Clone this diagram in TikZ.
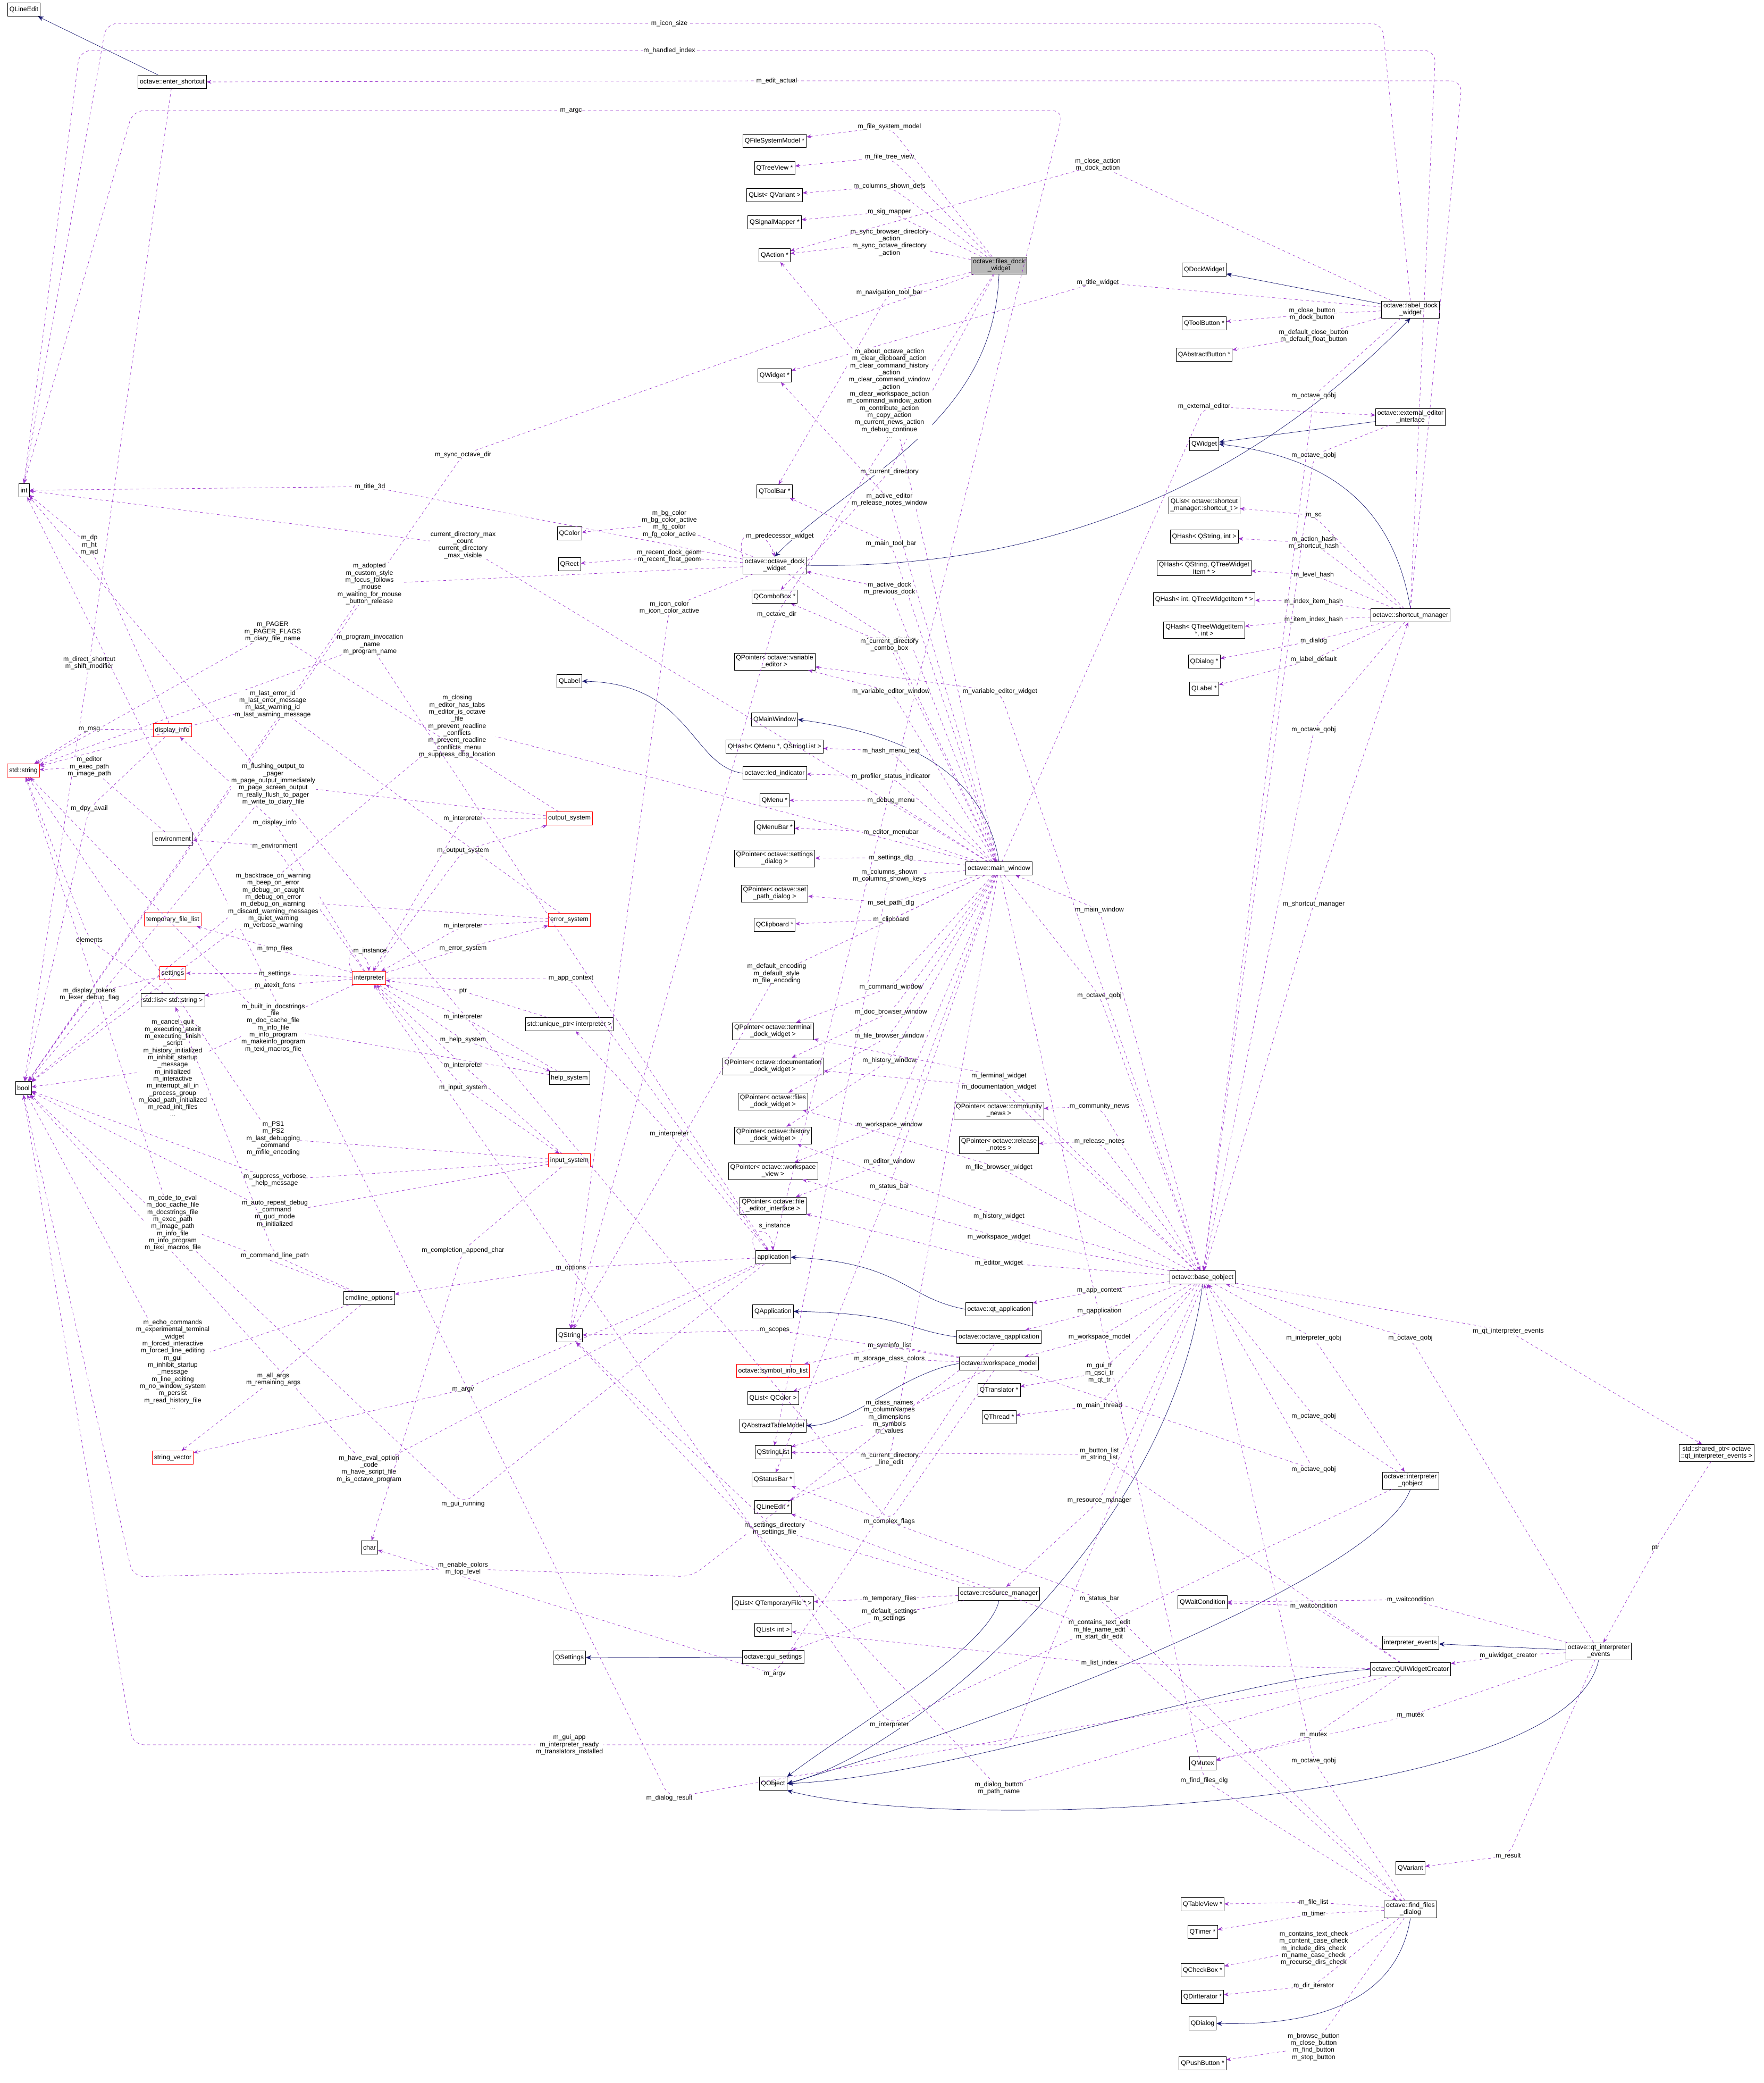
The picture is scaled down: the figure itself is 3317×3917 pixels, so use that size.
\documentclass[tikz,border=0pt]{standalone}
\usepackage{fontspec}
\setmainfont{Liberation Sans}
\usetikzlibrary{arrows.meta}
\definecolor{dpurple}{HTML}{9A32CD}
\definecolor{dblue}{HTML}{191970}
\newcommand\ue[4]{\draw[use] (#1) -- (#3) node[lab]{#4} -- (#2);}
\newcommand\ih[2]{\draw[inh] (#1) -- (#2);}
\begin{document}
\begin{tikzpicture}[x=0.02cm,y=-0.02cm,
 box/.style={draw,fill=white,font=\fontsize{7}{7.6}\selectfont,inner sep=2pt,minimum height=0.5cm,align=center},
 rbox/.style={box,draw=red},
 gbox/.style={box,fill=gray!55},
 use/.style={draw=dpurple,dashed,rounded corners=12pt,-{Stealth[length=5pt,width=4pt]}},
 inh/.style={draw=dblue,-{Stealth[length=6pt,width=5pt]}},
 lab/.style={font=\fontsize{7}{7.6}\selectfont,align=center,inner sep=0.5pt,fill=white}]
\useasboundingbox (0,0) rectangle (3317,3917);
% ---------- nodes
\node[box] (qlineedit) at (45,18) {QLineEdit};
\node[box] (enter) at (324,154) {octave::enter\_shortcut};
\node[box] (int) at (45,922) {int};
\node[rbox] (str) at (44,1449) {std::string};
\node[box] (bool) at (44,2046) {bool};
\node[box] (qfsm) at (1457,265) {QFileSystemModel *};
\node[box] (qtv) at (1457,316) {QTreeView *};
\node[box] (qlv) at (1457,367) {QList< QVariant >};
\node[box] (qsm) at (1457,418) {QSignalMapper *};
\node[box] (qaction) at (1457,480) {QAction *};
\node[gbox] (files) at (1879,499) {octave::files\_dock\\\_widget};
\node[box] (qdock) at (2265,507) {QDockWidget};
\node[box] (label) at (2653,582) {octave::label\_dock\\\_widget};
\node[box] (qtb) at (2265,608) {QToolButton *};
\node[box] (qab) at (2265,667) {QAbstractButton *};
\node[box] (qwidgetp) at (1457,706) {QWidget *};
\node[box] (extedit) at (2653,784) {octave::external\_editor\\\_interface};
\node[box] (qwidget) at (2265,835) {QWidget};
\node[box] (qtoolbar) at (1457,924) {QToolBar *};
\node[box] (qcolor) at (1071,1003) {QColor};
\node[box] (qrect) at (1071,1061) {QRect};
\node[box] (odock) at (1457,1063) {octave::octave\_dock\\\_widget};
\node[box] (qcombo) at (1457,1122) {QComboBox *};
\node[box] (qlsc) at (2265,950) {QList< octave::shortcut\\\_manager::shortcut\_t >};
\node[box] (qhsi) at (2265,1009) {QHash< QString, int >};
\node[box] (qhst) at (2265,1068) {QHash< QString, QTreeWidget\\Item * >};
\node[box] (qhit) at (2265,1127) {QHash< int, QTreeWidgetItem * >};
\node[box] (qhti) at (2265,1185) {QHash< QTreeWidgetItem\\ *, int >};
\node[box] (qdialogp) at (2265,1244) {QDialog *};
\node[box] (qlabelp) at (2265,1295) {QLabel *};
\node[box] (shortcut) at (2653,1157) {octave::shortcut\_manager};
\node[box] (pvar) at (1457,1244) {QPointer< octave::variable\\\_editor >};
\node[box] (qlabel) at (1071,1281) {QLabel};
\node[box] (qmw) at (1457,1353) {QMainWindow};
\node[box] (qhmenu) at (1457,1404) {QHash< QMenu *, QStringList >};
\node[box] (led) at (1457,1454) {octave::led\_indicator};
\node[box] (qmenu) at (1457,1505) {QMenu *};
\node[box] (qmenubar) at (1457,1556) {QMenuBar *};
\node[box] (psettings) at (1457,1614) {QPointer< octave::settings\\\_dialog >};
\node[box] (psetpath) at (1457,1680) {QPointer< octave::set\\\_path\_dialog >};
\node[box] (qclip) at (1457,1739) {QClipboard *};
\node[box] (mainw) at (1879,1633) {octave::main\_window};
\node[rbox] (dispinfo) at (324,1373) {display\_info};
\node[box] (env) at (325,1577) {environment};
\node[rbox] (outsys) at (1071,1539) {output\_system};
\node[rbox] (errsys) at (1071,1730) {error\_system};
\node[rbox] (tmpfl) at (325,1729) {temporary\_file\_list};
\node[rbox] (settings) at (325,1830) {settings};
\node[rbox] (interp) at (694,1839) {interpreter};
\node[box] (stdlist) at (325,1881) {std::list< std::string >};
\node[box] (uptr) at (1071,1926) {std::unique\_ptr< interpreter >};
\node[box] (helpsys) at (1071,2027) {help\_system};
\node[rbox] (inpsys) at (1071,2182) {input\_system};
\node[box] (pterm) at (1454,1939) {QPointer< octave::terminal\\\_dock\_widget >};
\node[box] (pdoc) at (1454,2005) {QPointer< octave::documentation\\\_dock\_widget >};
\node[box] (pfiles) at (1454,2071) {QPointer< octave::files\\\_dock\_widget >};
\node[box] (phist) at (1454,2135) {QPointer< octave::history\\\_dock\_widget >};
\node[box] (pws) at (1454,2202) {QPointer< octave::workspace\\\_view >};
\node[box] (pfe) at (1454,2267) {QPointer< octave::file\\\_editor\_interface >};
\node[box] (pcomm) at (1879,2088) {QPointer< octave::community\\\_news >};
\node[box] (prel) at (1879,2153) {QPointer< octave::release\\\_notes >};
\node[box] (app) at (1454,2364) {application};
\node[box] (cmdl) at (694,2441) {cmdline\_options};
\node[box] (qtapp) at (1879,2462) {octave::qt\_application};
\node[box] (baseq) at (2262,2402) {octave::base\_qobject};
\node[box] (qapplication) at (1454,2466) {QApplication};
\node[box] (oqapp) at (1879,2514) {octave::octave\_qapplication};
\node[box] (qstring) at (1071,2511) {QString};
\node[rbox] (syminfo) at (1454,2578) {octave::symbol\_info\_list};
\node[box] (wsmodel) at (1879,2564) {octave::workspace\_model};
\node[box] (qlcolor) at (1454,2629) {QList< QColor >};
\node[box] (qatm) at (1454,2681) {QAbstractTableModel};
\node[box] (qtrans) at (1879,2614) {QTranslator *};
\node[box] (qthread) at (1879,2665) {QThread *};
\node[rbox] (strvec) at (325,2741) {string\_vector};
\node[box] (qsl) at (1454,2731) {QStringList};
\node[box] (qsb) at (1454,2782) {QStatusBar *};
\node[box] (qlep) at (1454,2834) {QLineEdit *};
\node[box] (iqobj) at (2653,2784) {octave::interpreter\\\_qobject};
\node[box] (sptr) at (3229,2732) {std::shared\_ptr< octave\\::qt\_interpreter\_events >};
\node[box] (char) at (695,2910) {char};
\node[box] (qltf) at (1454,3015) {QList< QTemporaryFile * >};
\node[box] (qlint) at (1454,3065) {QList< int >};
\node[box] (resman) at (1879,2997) {octave::resource\_manager};
\node[box] (qsettings) at (1071,3117) {QSettings};
\node[box] (guiset) at (1454,3116) {octave::gui\_settings};
\node[box] (qwait) at (2262,3013) {QWaitCondition};
\node[box] (ievents) at (2653,3089) {interpreter\_events};
\node[box] (qtevents) at (3007,3105) {octave::qt\_interpreter\\\_events};
\node[box] (quiw) at (2653,3139) {octave::QUIWidgetCreator};
\node[box] (qmutex) at (2262,3316) {QMutex};
\node[box] (qobject) at (1454,3354) {QObject};
\node[box] (qvariant) at (2653,3513) {QVariant};
\node[box] (qtableview) at (2262,3581) {QTableView *};
\node[box] (qtimer) at (2262,3633) {QTimer *};
\node[box] (ffd) at (2653,3590) {octave::find\_files\\\_dialog};
\node[box] (qcheck) at (2262,3705) {QCheckBox *};
\node[box] (qdiri) at (2262,3755) {QDirIterator *};
\node[box] (qdialog) at (2262,3805) {QDialog};
\node[box] (qpush) at (2262,3880) {QPushButton *};
% ---------- inheritance
\ih{enter}{qlineedit}
\ih{label}{qdock}
\draw[inh] (odock.east) .. controls (1900,1070) and (2300,960) .. (label.south);
\draw[inh] (files.south) .. controls (1870,800) and (1600,900) .. (odock.north);
\ih{extedit}{qwidget}
\draw[inh] (shortcut.north) .. controls (2620,950) and (2500,860) .. (qwidget.east);
\draw[inh] (led.west) .. controls (1300,1440) and (1300,1285) .. (qlabel.east);
\draw[inh] (mainw.north) .. controls (1850,1450) and (1700,1380) .. (qmw.east);
\draw[inh] (qtapp.west) .. controls (1700,2440) and (1700,2375) .. (app.east);
\draw[inh] (oqapp.west) .. controls (1700,2500) and (1700,2470) .. (qapplication.east);
\draw[inh] (wsmodel.west) .. controls (1700,2580) and (1600,2680) .. (qatm.east);
\ih{guiset}{qsettings}
\draw[inh] (resman.south) .. controls (1860,3100) and (1600,3250) .. (qobject.north east);
\draw[inh] (baseq.south) .. controls (2200,2900) and (1700,3300) .. (qobject.east);
\draw[inh] (iqobj.south) .. controls (2600,2950) and (2000,3200) .. (qobject.east);
\draw[inh] (quiw.west) .. controls (2300,3160) and (1800,3340) .. (qobject.east);
\draw[inh] (qtevents.south) .. controls (2950,3400) and (1800,3450) .. (qobject.south east);
\ih{qtevents}{ievents}
\draw[inh] (ffd.south) .. controls (2630,3750) and (2500,3810) .. (qdialog.east);
% ---------- usage: files_dock_widget
\ue{files}{qfsm}{1673,238}{m\_file\_system\_model}
\ue{files}{qtv}{1673,295}{m\_file\_tree\_view}
\ue{files}{qlv}{1673,350}{m\_columns\_shown\_defs}
\ue{files}{qsm}{1673,398}{m\_sig\_mapper}
\ue{files}{qaction}{1673,456}{m\_sync\_browser\_directory\\\_action\\m\_sync\_octave\_directory\\\_action}
\ue{files}{qtoolbar}{1673,550}{m\_navigation\_tool\_bar}
\ue{files}{qcombo}{1673,887}{m\_current\_directory}
\ue{files}{bool}{871,855}{m\_sync\_octave\_dir}
\ue{files}{qstring}{1461,1155}{m\_octave\_dir}
\ue{mainw}{qsl}{1673,1647}{m\_columns\_shown\\m\_columns\_shown\_keys}
% label_dock_widget
\ue{label}{qtb}{2468,591}{m\_close\_button\\m\_dock\_button}
\ue{label}{qab}{2471,632}{m\_default\_close\_button\\m\_default\_float\_button}
\ue{label}{qwidgetp}{2065,531}{m\_title\_widget}
\ue{label}{qaction}{2065,310}{m\_close\_action\\m\_dock\_action}
\draw[use] (label.north) -- (2600,44) -- (1259,44) node[lab]{m\_icon\_size} -- (200,44) -- (int.north);
\draw[use] (shortcut.north) -- (2700,95) -- (1259,95) node[lab]{m\_handled\_index} -- (150,95) -- (int.north);
\draw[use] (shortcut.north) -- (2750,152) -- (1461,152) node[lab]{m\_edit\_actual} -- (enter.east);
\draw[use] (app.north) -- (2000,208) -- (1074,208) node[lab]{m\_argc} -- (250,208) -- (int.north);
\ue{enter}{bool}{168,1247}{m\_direct\_shortcut\\m\_shift\_modifier}
% octave_dock_widget
\ue{odock}{int}{696,915}{m\_title\_3d}
\ue{odock}{qcolor}{1259,985}{m\_bg\_color\\m\_bg\_color\_active\\m\_fg\_color\\m\_fg\_color\_active}
\ue{odock}{qrect}{1259,1046}{m\_recent\_dock\_geom\\m\_recent\_float\_geom}
\ue{odock}{qstring}{1259,1143}{m\_icon\_color\\m\_icon\_color\_active}
\ue{odock}{bool}{695,1098}{m\_adopted\\m\_custom\_style\\m\_focus\_follows\\\_mouse\\m\_waiting\_for\_mouse\\\_button\_release}
\draw[use] (odock.north west) .. controls (1380,990) and (1440,990) .. (odock.north);
\node[lab] (predlab) at (1467,1008) {m\_predecessor\_widget};
\ue{odock}{mainw}{1676,1203}{m\_main\_window}
% shortcut_manager
\ue{shortcut}{qlsc}{2471,969}{m\_sc}
\ue{shortcut}{qhsi}{2471,1021}{m\_action\_hash\\m\_shortcut\_hash}
\ue{shortcut}{qhst}{2471,1081}{m\_level\_hash}
\ue{shortcut}{qhit}{2471,1131}{m\_index\_item\_hash}
\ue{shortcut}{qhti}{2471,1165}{m\_item\_index\_hash}
\ue{shortcut}{qdialogp}{2471,1205}{m\_dialog}
\ue{shortcut}{qlabelp}{2471,1240}{m\_label\_default}
\ue{shortcut}{baseq}{2471,1372}{m\_octave\_qobj}
\ue{extedit}{baseq}{2471,856}{m\_octave\_qobj}
\ue{label}{baseq}{2471,744}{m\_octave\_qobj}
\ue{baseq}{shortcut}{2471,1700}{m\_shortcut\_manager}
% main_window
\ue{mainw}{qaction}{1673,740}{m\_about\_octave\_action\\m\_clear\_clipboard\_action\\m\_clear\_command\_history\\\_action\\m\_clear\_command\_window\\\_action\\m\_clear\_workspace\_action\\m\_command\_window\_action\\m\_contribute\_action\\m\_copy\_action\\m\_current\_news\_action\\m\_debug\_continue\\...}
\ue{mainw}{qwidgetp}{1673,940}{m\_active\_editor\\m\_release\_notes\_window}
\ue{mainw}{qtoolbar}{1676,1022}{m\_main\_tool\_bar}
\ue{mainw}{odock}{1673,1107}{m\_active\_dock\\m\_previous\_dock}
\ue{mainw}{qcombo}{1673,1213}{m\_current\_directory\\\_combo\_box}
\ue{mainw}{pvar}{1676,1300}{m\_variable\_editor\_window}
\ue{mainw}{extedit}{2265,764}{m\_external\_editor}
\ue{mainw}{qhmenu}{1676,1412}{m\_hash\_menu\_text}
\ue{mainw}{led}{1676,1460}{m\_profiler\_status\_indicator}
\ue{mainw}{qmenu}{1676,1505}{m\_debug\_menu}
\ue{mainw}{qmenubar}{1676,1565}{m\_editor\_menubar}
\ue{mainw}{psettings}{1676,1613}{m\_settings\_dlg}
\ue{mainw}{psetpath}{1676,1698}{m\_set\_path\_dlg}
\ue{mainw}{qclip}{1676,1729}{m\_clipboard}
\ue{mainw}{qstring}{1461,1831}{m\_default\_encoding\\m\_default\_style\\m\_file\_encoding}
\ue{mainw}{pterm}{1676,1856}{m\_command\_window}
\ue{mainw}{pdoc}{1676,1903}{m\_doc\_browser\_window}
\ue{mainw}{pfiles}{1673,1948}{m\_file\_browser\_window}
\ue{mainw}{phist}{1673,1994}{m\_history\_window}
\ue{mainw}{pws}{1673,2115}{m\_workspace\_window}
\ue{mainw}{pfe}{1673,2184}{m\_editor\_window}
\ue{mainw}{qsb}{1673,2231}{m\_status\_bar}
\ue{mainw}{qlep}{1673,2744}{m\_current\_directory\\\_line\_edit}
\ue{mainw}{int}{871,1025}{current\_directory\_max\\\_count\\current\_directory\\\_max\_visible}
\ue{mainw}{bool}{860,1366}{m\_closing\\m\_editor\_has\_tabs\\m\_editor\_is\_octave\\\_file\\m\_prevent\_readline\\\_conflicts\\m\_prevent\_readline\\\_conflicts\_menu\\m\_suppress\_dbg\_location}
\ue{mainw}{ffd}{2265,3348}{m\_find\_files\_dlg}
\ue{mainw}{baseq}{2068,1872}{m\_octave\_qobj}
% base_qobject
\ue{baseq}{mainw}{2068,1711}{m\_main\_window}
\ue{baseq}{pvar}{1881,1300}{m\_variable\_editor\_widget}
\ue{baseq}{pterm}{1879,2023}{m\_terminal\_widget}
\ue{baseq}{pdoc}{1879,2044}{m\_documentation\_widget}
\ue{baseq}{pfiles}{1879,2195}{m\_file\_browser\_widget}
\ue{baseq}{phist}{1879,2287}{m\_history\_widget}
\ue{baseq}{pws}{1879,2326}{m\_workspace\_widget}
\ue{baseq}{pfe}{1879,2375}{m\_editor\_widget}
\ue{baseq}{pcomm}{2068,2080}{m\_community\_news}
\ue{baseq}{prel}{2068,2146}{m\_release\_notes}
\ue{baseq}{qtapp}{2068,2427}{m\_app\_context}
\ue{baseq}{oqapp}{2068,2465}{m\_qapplication}
\ue{baseq}{wsmodel}{2068,2514}{m\_workspace\_model}
\ue{baseq}{qtrans}{2068,2582}{m\_gui\_tr\\m\_qsci\_tr\\m\_qt\_tr}
\ue{baseq}{qthread}{2068,2643}{m\_main\_thread}
\ue{baseq}{resman}{2068,2822}{m\_resource\_manager}
\ue{baseq}{iqobj}{2471,2516}{m\_interpreter\_qobj}
\ue{baseq}{sptr}{2837,2503}{m\_qt\_interpreter\_events}
\draw[use] (baseq.south) -- (1900,3281) -- (1071,3281) node[lab]{m\_gui\_app\\m\_interpreter\_ready\\m\_translators\_installed} -- (250,3281) -- (bool.south);
\ue{iqobj}{baseq}{2471,2663}{m\_octave\_qobj}
\ue{qtevents}{baseq}{2653,2516}{m\_octave\_qobj}
\ue{wsmodel}{baseq}{2471,2763}{m\_octave\_qobj}
\ue{ffd}{baseq}{2471,3311}{m\_octave\_qobj}
\ue{sptr}{qtevents}{3114,2911}{ptr}
% application
\draw[use] (app.north west) .. controls (1400,2310) and (1450,2300) .. (app.north);
\node[lab] (sinst) at (1457,2305) {s\_instance};
\ue{app}{cmdl}{1074,2384}{m\_options}
\ue{app}{uptr}{1259,2132}{m\_interpreter}
\ue{app}{strvec}{871,2613}{m\_argv}
\ue{app}{bool}{694,2762}{m\_have\_eval\_option\\\_code\\m\_have\_script\_file\\m\_is\_octave\_program}
\ue{app}{bool}{871,2828}{m\_gui\_running}
\ue{app}{str}{696,1212}{m\_program\_invocation\\\_name\\m\_program\_name}
\ue{oqapp}{char}{1457,3148}{m\_argv}
\ue{uptr}{interp}{871,1864}{ptr}
% workspace_model
\ue{wsmodel}{syminfo}{1673,2530}{m\_syminfo\_list}
\ue{wsmodel}{qlcolor}{1673,2555}{m\_storage\_class\_colors}
\ue{wsmodel}{qsl}{1673,2665}{m\_class\_names\\m\_columnNames\\m\_dimensions\\m\_symbols\\m\_values}
\ue{wsmodel}{qstring}{1457,2501}{m\_scopes}
\ue{wsmodel}{int}{1673,2861}{m\_complex\_flags}
\draw[use] (wsmodel.south west) -- (1300,2965) -- (871,2950) node[lab]{m\_enable\_colors\\m\_top\_level} -- (250,2965) -- (bool.south);
% resource_manager
\ue{resman}{qltf}{1673,3006}{m\_temporary\_files}
\ue{resman}{guiset}{1673,3037}{m\_default\_settings\\m\_settings}
\ue{resman}{qstring}{1457,2875}{m\_settings\_directory\\m\_settings\_file}
% qt_interpreter_events, QUIWidgetCreator
\ue{qtevents}{quiw}{2837,3113}{m\_uiwidget\_creator}
\ue{qtevents}{qmutex}{2653,3226}{m\_mutex}
\ue{qtevents}{qwait}{2653,3008}{m\_waitcondition}
\ue{qtevents}{qvariant}{2837,3490}{m\_result}
\ue{quiw}{qmutex}{2471,3263}{m\_mutex}
\ue{quiw}{qwait}{2471,3020}{m\_waitcondition}
\ue{quiw}{qsl}{2068,2735}{m\_button\_list\\m\_string\_list}
\ue{quiw}{qlint}{2068,3127}{m\_list\_index}
\ue{quiw}{qstring}{1879,3363}{m\_dialog\_button\\m\_path\_name}
\ue{quiw}{int}{1259,3381}{m\_dialog\_result}
\ue{iqobj}{interp}{1673,3243}{m\_interpreter}
% find_files_dialog
\ue{ffd}{qtableview}{2471,3577}{m\_file\_list}
\ue{ffd}{qtimer}{2471,3599}{m\_timer}
\ue{ffd}{qcheck}{2471,3664}{m\_contains\_text\_check\\m\_content\_case\_check\\m\_include\_dirs\_check\\m\_name\_case\_check\\m\_recurse\_dirs\_check}
\ue{ffd}{qdiri}{2471,3734}{m\_dir\_iterator}
\ue{ffd}{qpush}{2471,3849}{m\_browse\_button\\m\_close\_button\\m\_find\_button\\m\_stop\_button}
\ue{ffd}{qlep}{2068,3065}{m\_contains\_text\_edit\\m\_file\_name\_edit\\m\_start\_dir\_edit}
\ue{ffd}{qsb}{2068,3006}{m\_status\_bar}
% interpreter
\ue{interp}{dispinfo}{517,1547}{m\_display\_info}
\ue{interp}{env}{517,1591}{m\_environment}
\ue{interp}{outsys}{871,1600}{m\_output\_system}
\ue{interp}{errsys}{871,1784}{m\_error\_system}
\ue{interp}{tmpfl}{517,1784}{m\_tmp\_files}
\ue{interp}{settings}{517,1831}{m\_settings}
\ue{interp}{stdlist}{517,1853}{m\_atexit\_fcns}
\ue{interp}{helpsys}{871,1955}{m\_help\_system}
\ue{interp}{inpsys}{871,2045}{m\_input\_system}
\draw[use] (interp.north west) .. controls (640,1780) and (690,1780) .. (interp.north);
\node[lab] (instlab) at (696,1788) {m\_instance};
\ue{interp}{app}{1074,1840}{m\_app\_context}
\ue{interp}{bool}{325,2008}{m\_cancel\_quit\\m\_executing\_atexit\\m\_executing\_finish\\\_script\\m\_history\_initialized\\m\_inhibit\_startup\\\_message\\m\_initialized\\m\_interactive\\m\_interrupt\_all\_in\\\_process\_group\\m\_load\_path\_initialized\\m\_read\_init\_files\\...}
\ue{outsys}{interp}{871,1539}{m\_interpreter}
\ue{outsys}{str}{513,1188}{m\_PAGER\\m\_PAGER\_FLAGS\\m\_diary\_file\_name}
\ue{outsys}{bool}{514,1475}{m\_flushing\_output\_to\\\_pager\\m\_page\_output\_immediately\\m\_page\_screen\_output\\m\_really\_flush\_to\_pager\\m\_write\_to\_diary\_file}
\ue{errsys}{interp}{871,1741}{m\_interpreter}
\ue{errsys}{str}{513,1324}{m\_last\_error\_id\\m\_last\_error\_message\\m\_last\_warning\_id\\m\_last\_warning\_message}
\ue{errsys}{bool}{514,1694}{m\_backtrace\_on\_warning\\m\_beep\_on\_error\\m\_debug\_on\_caught\\m\_debug\_on\_error\\m\_debug\_on\_warning\\m\_discard\_warning\_messages\\m\_quiet\_warning\\m\_verbose\_warning}
\ue{helpsys}{interp}{871,1912}{m\_interpreter}
\ue{helpsys}{str}{514,1933}{m\_built\_in\_docstrings\\\_file\\m\_doc\_cache\_file\\m\_info\_file\\m\_info\_program\\m\_makeinfo\_program\\m\_texi\_macros\_file}
\ue{inpsys}{interp}{871,2003}{m\_interpreter}
\ue{inpsys}{str}{514,2141}{m\_PS1\\m\_PS2\\m\_last\_debugging\\\_command\\m\_mfile\_encoding}
\ue{inpsys}{bool}{517,2219}{m\_suppress\_verbose\\\_help\_message}
\ue{inpsys}{bool}{517,2282}{m\_auto\_repeat\_debug\\\_command\\m\_gud\_mode\\m\_initialized}
\ue{inpsys}{char}{871,2351}{m\_completion\_append\_char}
\ue{dispinfo}{str}{168,1371}{m\_msg}
\ue{dispinfo}{int}{168,1025}{m\_dp\\m\_ht\\m\_wd}
\ue{dispinfo}{bool}{168,1520}{m\_dpy\_avail}
\ue{env}{str}{168,1442}{m\_editor\\m\_exec\_path\\m\_image\_path}
\ue{settings}{bool}{168,1870}{m\_display\_tokens\\m\_lexer\_debug\_flag}
\ue{stdlist}{str}{168,1767}{elements}
\ue{cmdl}{str}{325,2300}{m\_code\_to\_eval\\m\_doc\_cache\_file\\m\_docstrings\_file\\m\_exec\_path\\m\_image\_path\\m\_info\_file\\m\_info\_program\\m\_texi\_macros\_file}
\ue{cmdl}{bool}{325,2566}{m\_echo\_commands\\m\_experimental\_terminal\\\_widget\\m\_forced\_interactive\\m\_forced\_line\_editing\\m\_gui\\m\_inhibit\_startup\\\_message\\m\_line\_editing\\m\_no\_window\_system\\m\_persist\\m\_read\_history\_file\\...}
\ue{cmdl}{strvec}{514,2594}{m\_all\_args\\m\_remaining\_args}
\ue{cmdl}{stdlist}{517,2361}{m\_command\_line\_path}
\end{tikzpicture}
\end{document}
